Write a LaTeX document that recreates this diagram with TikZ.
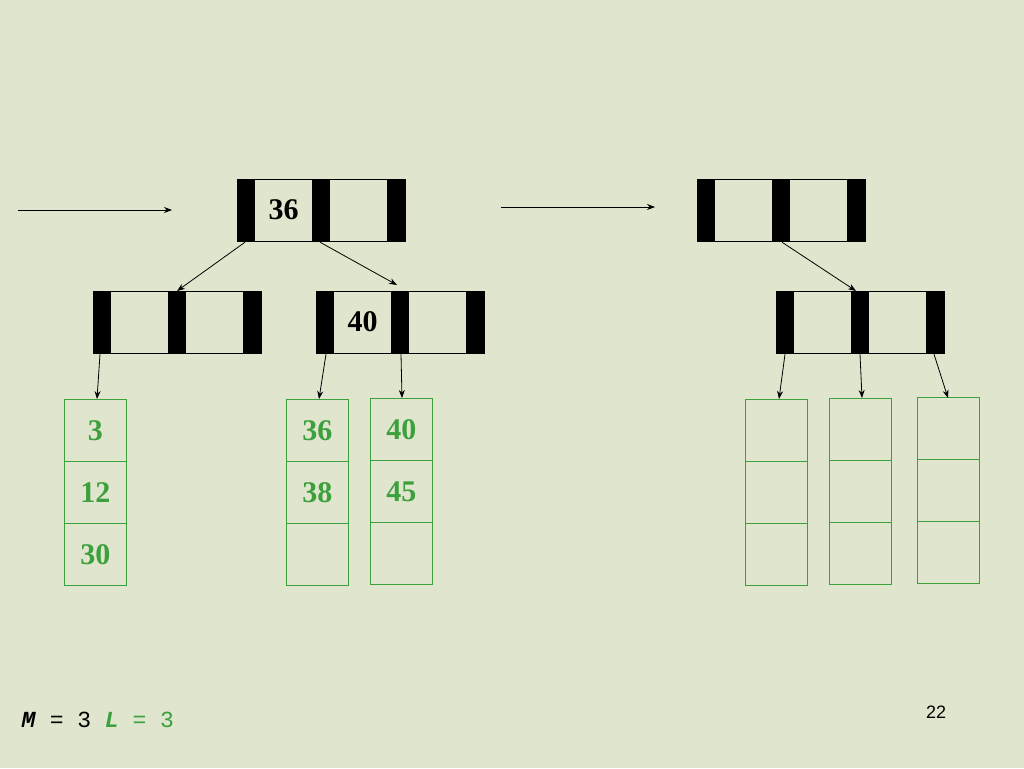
\documentclass[tikz,border=0pt]{standalone}
\usepackage{fontspec}
\setmainfont{Liberation Serif}
\newfontfamily\monof{Liberation Mono}
\newfontfamily\sansf{Liberation Sans}
\usetikzlibrary{arrows.meta}
\definecolor{bg}{RGB}{224,229,206}
\definecolor{lg}{RGB}{60,160,60}
\tikzset{
  inbox/.style={draw,line width=1.2pt,minimum width=168pt,minimum height=62pt,inner sep=0,anchor=north west},
  bar/.style={fill=black},
  leafbox/.style={draw=lg,line width=0.8pt,minimum width=62pt,minimum height=62pt,inner sep=0,anchor=north west,text=lg,font=\bfseries\fontsize{30}{30}\selectfont},
  key/.style={font=\bfseries\fontsize{30}{30}\selectfont},
  arr/.style={-{Stealth[length=8pt,width=6pt]},line width=0.8pt}
}
\newcommand{\inode}[4]{%
  \node[inbox] (#1) at (#2,#3) {};
  \fill[bar] (#2,#3) rectangle ++(18,62);
  \fill[bar] (#2+75,#3) rectangle ++(18,62);
  \fill[bar] (#2+150,#3) rectangle ++(18,62);
  \node[key] (#1k) at (#2+46.5,#3+31) {#4};
}
\newcommand{\leaf}[6]{%
  \node[leafbox] (#1a) at (#2,#3) {#4};
  \node[leafbox] (#1b) at (#2,#3+62) {#5};
  \node[leafbox] (#1c) at (#2,#3+124) {#6};
}
\begin{document}
\begin{tikzpicture}[x=1pt,y=-1pt]
\fill[bg] (0,0) rectangle (1024,768);
\useasboundingbox (0,0) rectangle (1024,768);
\inode{A}{237}{179}{36}
\inode{B}{93}{291}{}
\inode{C}{316}{291}{40}
\inode{D}{697}{179}{}
\inode{E}{776}{291}{}
\leaf{P}{64}{399}{3}{12}{30}
\leaf{Q}{286}{399}{36}{38}{}
\leaf{R}{370}{398}{40}{45}{}
\leaf{S}{745}{399}{}{}{}
\leaf{T}{829}{398}{}{}{}
\leaf{U}{917}{397}{}{}{}
\coordinate (s1) at (18,210); \coordinate (e1) at (172,210);
\coordinate (s2) at (501,207); \coordinate (e2) at (655,207);
\draw[arr] (s1) -- (e1);
\draw[arr] (s2) -- (e2);
\draw[arr] ([xshift=8pt]A.south west) -- ([xshift=84pt]B.north west);
\draw[arr] ([xshift=83pt]A.south west) -- ([xshift=81pt,yshift=6pt]C.north west);
\draw[arr] ([xshift=7pt]B.south west) -- ([xshift=33pt]Pa.north west);
\draw[arr] ([xshift=10pt]C.south west) -- ([xshift=33pt]Qa.north west);
\draw[arr] ([xshift=85pt]C.south west) -- ([xshift=32pt]Ra.north west);
\draw[arr] ([xshift=85pt]D.south west) -- ([xshift=80pt]E.north west);
\draw[arr] ([xshift=9pt]E.south west) -- ([xshift=34pt]Sa.north west);
\draw[arr] ([xshift=84pt]E.south west) -- ([xshift=33pt]Ta.north west);
\draw[arr] ([xshift=158pt]E.south west) -- ([xshift=31pt,yshift=-1pt]Ua.north west);
\node[font=\sansf\fontsize{18}{18}\selectfont] (pg) at (936,712) {22};
\node[anchor=west,font=\monof\fontsize{23}{23}\selectfont] (ml) at (18,720)
 {\textbf{\textit{M}} = 3 \textcolor{lg}{\textbf{\textit{L}} = 3}};
\end{tikzpicture}
\end{document}
